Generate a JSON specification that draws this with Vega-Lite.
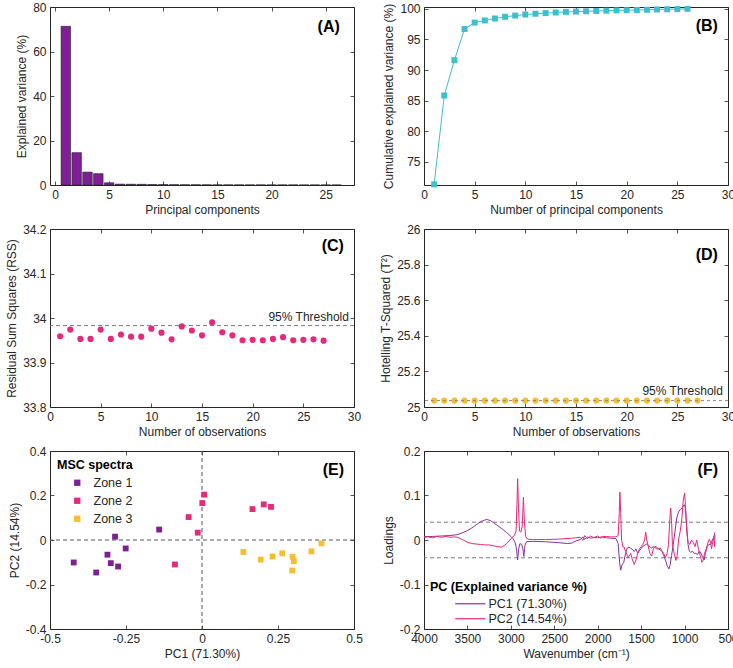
{
  "$schema": "https://vega.github.io/schema/vega-lite/v6.json",
  "background": "white",
  "padding": {"left": 5, "top": 0, "right": 5, "bottom": 5},
  "columns": 2,
  "spacing": {"row": 44, "column": 70},
  "bounds": "flush",
  "resolve": {"legend": {"fill": "independent", "stroke": "independent"}, "scale": {"fill": "independent", "stroke": "independent"}},
  "config": {
    "font": "Liberation Sans",
    "view": {"stroke": "#262626", "strokeWidth": 1},
    "axis": {"grid": false, "domain": false, "ticks": true, "tickSize": -4, "tickColor": "#262626", "tickWidth": 0.8,
      "labelPadding": 8, "labelFontSize": 12, "labelColor": "#262626", "titleFontSize": 12, "titleFontWeight": "normal",
      "titleColor": "#262626", "titlePadding": 4, "labelFlush": false, "labelOverlap": false},
    "locale": {"number": {"decimal": ".", "thousands": ",", "grouping": [3], "currency": ["$", ""], "minus": "-"}}
  },
  "concat": [
    {
      "width": 304, "height": 178,
      "data": {"values": [
        {"pc": 1, "var": 71.3}, {"pc": 2, "var": 14.54}, {"pc": 3, "var": 5.8}, {"pc": 4, "var": 5.1},
        {"pc": 5, "var": 1.0}, {"pc": 6, "var": 0.4}, {"pc": 7, "var": 0.35}, {"pc": 8, "var": 0.3},
        {"pc": 9, "var": 0.2}, {"pc": 10, "var": 0.17}, {"pc": 11, "var": 0.13}, {"pc": 12, "var": 0.1},
        {"pc": 13, "var": 0.1}, {"pc": 14, "var": 0.08}, {"pc": 15, "var": 0.06}, {"pc": 16, "var": 0.05},
        {"pc": 17, "var": 0.05}, {"pc": 18, "var": 0.04}, {"pc": 19, "var": 0.04}, {"pc": 20, "var": 0.03},
        {"pc": 21, "var": 0.03}, {"pc": 22, "var": 0.03}, {"pc": 23, "var": 0.03}, {"pc": 24, "var": 0.02},
        {"pc": 25, "var": 0.02}, {"pc": 26, "var": 0.02}
      ]},
      "resolve": {"axis": {"x": "independent", "y": "independent"}},
      "layer": [
        {"mark": {"type": "bar", "size": 9.5, "fill": "#7E1F96", "stroke": "#222222", "strokeWidth": 0.6},
         "encoding": {
           "x": {"field": "pc", "type": "quantitative", "scale": {"domain": [0, 27.15], "nice": false, "zero": false},
                 "axis": {"values": [0, 5, 10, 15, 20, 25], "title": "Principal components"}},
           "y": {"field": "var", "type": "quantitative", "scale": {"domain": [0, 80], "nice": false},
                 "axis": {"values": [0, 20, 40, 60, 80], "title": "Explained variance (%)"}}
         }},
        {"mark": {"type": "point", "opacity": 0},
         "encoding": {
           "x": {"field": "pc", "type": "quantitative", "axis": {"orient": "top", "labels": false, "title": null, "values": [0, 5, 10, 15, 20, 25]}},
           "y": {"field": "var", "type": "quantitative", "axis": {"orient": "right", "labels": false, "title": null, "values": [0, 20, 40, 60, 80]}}
         }},
        {"data": {"values": [{"label": "(A)"}]},
         "mark": {"type": "text", "align": "right", "baseline": "middle", "fontSize": 16, "fontWeight": "bold", "color": "black"},
         "encoding": {"text": {"field": "label"}, "x": {"datum": 26.3, "axis": null}, "y": {"datum": 71, "axis": null}}}
      ]
    },
    {
      "width": 304, "height": 178,
      "data": {"values": [
        {"n": 1, "cum": 71.3}, {"n": 2, "cum": 85.84}, {"n": 3, "cum": 91.6}, {"n": 4, "cum": 96.7},
        {"n": 5, "cum": 97.75}, {"n": 6, "cum": 98.1}, {"n": 7, "cum": 98.42}, {"n": 8, "cum": 98.7},
        {"n": 9, "cum": 98.9}, {"n": 10, "cum": 99.07}, {"n": 11, "cum": 99.2}, {"n": 12, "cum": 99.3},
        {"n": 13, "cum": 99.4}, {"n": 14, "cum": 99.5}, {"n": 15, "cum": 99.55}, {"n": 16, "cum": 99.6},
        {"n": 17, "cum": 99.65}, {"n": 18, "cum": 99.7}, {"n": 19, "cum": 99.75}, {"n": 20, "cum": 99.78},
        {"n": 21, "cum": 99.82}, {"n": 22, "cum": 99.85}, {"n": 23, "cum": 99.9}, {"n": 24, "cum": 99.93},
        {"n": 25, "cum": 99.96}, {"n": 26, "cum": 100}
      ]},
      "resolve": {"axis": {"x": "independent", "y": "independent"}},
      "layer": [
        {"mark": {"type": "line", "color": "#3DBFCD", "strokeWidth": 1, "point": {"shape": "square", "filled": true, "size": 36, "color": "#3DBFCD"}},
         "encoding": {
           "x": {"field": "n", "type": "quantitative", "scale": {"domain": [0, 30], "nice": false},
                 "axis": {"values": [0, 5, 10, 15, 20, 25, 30], "title": "Number of principal components"}},
           "y": {"field": "cum", "type": "quantitative", "scale": {"domain": [71.2, 100.3], "nice": false, "zero": false},
                 "axis": {"values": [75, 80, 85, 90, 95, 100], "title": "Cumulative explained variance (%)"}}
         }},
        {"mark": {"type": "point", "opacity": 0},
         "encoding": {
           "x": {"field": "n", "type": "quantitative", "axis": {"orient": "top", "labels": false, "title": null, "values": [0, 5, 10, 15, 20, 25, 30]}},
           "y": {"field": "cum", "type": "quantitative", "axis": {"orient": "right", "labels": false, "title": null, "values": [75, 80, 85, 90, 95, 100]}}
         }},
        {"data": {"values": [{"label": "(B)"}]},
         "mark": {"type": "text", "align": "right", "baseline": "middle", "fontSize": 16, "fontWeight": "bold", "color": "black"},
         "encoding": {"text": {"field": "label"}, "x": {"datum": 29.0, "axis": null}, "y": {"datum": 97.2, "axis": null}}}
      ]
    },
    {
      "width": 304, "height": 178,
      "data": {"values": [
        {"obs": 1, "rss": 33.959}, {"obs": 2, "rss": 33.974}, {"obs": 3, "rss": 33.953}, {"obs": 4, "rss": 33.953},
        {"obs": 5, "rss": 33.974}, {"obs": 6, "rss": 33.953}, {"obs": 7, "rss": 33.963}, {"obs": 8, "rss": 33.958},
        {"obs": 9, "rss": 33.958}, {"obs": 10, "rss": 33.976}, {"obs": 11, "rss": 33.967}, {"obs": 12, "rss": 33.952},
        {"obs": 13, "rss": 33.981}, {"obs": 14, "rss": 33.972}, {"obs": 15, "rss": 33.961}, {"obs": 16, "rss": 33.990},
        {"obs": 17, "rss": 33.968}, {"obs": 18, "rss": 33.961}, {"obs": 19, "rss": 33.950}, {"obs": 20, "rss": 33.951},
        {"obs": 21, "rss": 33.950}, {"obs": 22, "rss": 33.953}, {"obs": 23, "rss": 33.957}, {"obs": 24, "rss": 33.950},
        {"obs": 25, "rss": 33.951}, {"obs": 26, "rss": 33.952}, {"obs": 27, "rss": 33.949}
      ]},
      "resolve": {"axis": {"x": "independent", "y": "independent"}},
      "layer": [
        {"data": {"values": [{"label": "95% Threshold", "value": 33.983}]},
         "mark": {"type": "rule", "color": "#7a7a7a", "strokeDash": [4, 3], "strokeWidth": 1},
         "encoding": {"y": {"field": "value", "type": "quantitative", "axis": null}}},
        {"mark": {"type": "circle", "size": 38, "color": "#E8287A", "opacity": 1},
         "encoding": {
           "x": {"field": "obs", "type": "quantitative", "scale": {"domain": [0, 30], "nice": false},
                 "axis": {"values": [0, 5, 10, 15, 20, 25, 30], "title": "Number of observations"}},
           "y": {"field": "rss", "type": "quantitative", "scale": {"domain": [33.8, 34.2], "nice": false, "zero": false},
                 "axis": {"values": [33.8, 33.9, 34, 34.1, 34.2], "format": ".1~f", "title": "Residual Sum Squares (RSS)"}}
         }},
        {"mark": {"type": "point", "opacity": 0},
         "encoding": {
           "x": {"field": "obs", "type": "quantitative", "axis": {"orient": "top", "labels": false, "title": null, "values": [0, 5, 10, 15, 20, 25, 30]}},
           "y": {"field": "rss", "type": "quantitative", "axis": {"orient": "right", "labels": false, "title": null, "values": [33.8, 33.9, 34, 34.1, 34.2]}}
         }},
        {"data": {"values": [{"label": "95% Threshold", "value": 33.983}]},
         "mark": {"type": "text", "align": "right", "baseline": "bottom", "dy": -2, "fontSize": 12, "color": "#262626"},
         "encoding": {"text": {"field": "label"}, "x": {"datum": 29.5, "axis": null}, "y": {"field": "value", "type": "quantitative", "axis": null}}},
        {"data": {"values": [{"label": "(C)"}]},
         "mark": {"type": "text", "align": "right", "baseline": "middle", "fontSize": 16, "fontWeight": "bold", "color": "black"},
         "encoding": {"text": {"field": "label"}, "x": {"datum": 29.0, "axis": null}, "y": {"datum": 34.162, "axis": null}}}
      ]
    },
    {
      "width": 304, "height": 178,
      "data": {"values": [
        {"obs": 1, "t2": 25.036}, {"obs": 2, "t2": 25.036}, {"obs": 3, "t2": 25.036}, {"obs": 4, "t2": 25.036},
        {"obs": 5, "t2": 25.036}, {"obs": 6, "t2": 25.036}, {"obs": 7, "t2": 25.036}, {"obs": 8, "t2": 25.036},
        {"obs": 9, "t2": 25.036}, {"obs": 10, "t2": 25.036}, {"obs": 11, "t2": 25.036}, {"obs": 12, "t2": 25.036},
        {"obs": 13, "t2": 25.036}, {"obs": 14, "t2": 25.036}, {"obs": 15, "t2": 25.036}, {"obs": 16, "t2": 25.036},
        {"obs": 17, "t2": 25.036}, {"obs": 18, "t2": 25.036}, {"obs": 19, "t2": 25.036}, {"obs": 20, "t2": 25.036},
        {"obs": 21, "t2": 25.036}, {"obs": 22, "t2": 25.036}, {"obs": 23, "t2": 25.036}, {"obs": 24, "t2": 25.036},
        {"obs": 25, "t2": 25.036}, {"obs": 26, "t2": 25.036}, {"obs": 27, "t2": 25.036}
      ]},
      "resolve": {"axis": {"x": "independent", "y": "independent"}},
      "layer": [
        {"mark": {"type": "circle", "size": 38, "color": "#F5BE30", "opacity": 1},
         "encoding": {
           "x": {"field": "obs", "type": "quantitative", "scale": {"domain": [0, 30], "nice": false},
                 "axis": {"values": [0, 5, 10, 15, 20, 25, 30], "title": "Number of observations"}},
           "y": {"field": "t2", "type": "quantitative", "scale": {"domain": [25, 26], "nice": false, "zero": false},
                 "axis": {"values": [25, 25.2, 25.4, 25.6, 25.8, 26], "format": ".1~f", "title": "Hotelling T-Squared (T²)"}}
         }},
        {"data": {"values": [{"label": "95% Threshold", "value": 25.036}]},
         "mark": {"type": "rule", "color": "#8a8a8a", "strokeDash": [3, 3], "strokeWidth": 1},
         "encoding": {"y": {"field": "value", "type": "quantitative", "axis": null}}},
        {"mark": {"type": "point", "opacity": 0},
         "encoding": {
           "x": {"field": "obs", "type": "quantitative", "axis": {"orient": "top", "labels": false, "title": null, "values": [0, 5, 10, 15, 20, 25, 30]}},
           "y": {"field": "t2", "type": "quantitative", "axis": {"orient": "right", "labels": false, "title": null, "values": [25, 25.2, 25.4, 25.6, 25.8, 26]}}
         }},
        {"data": {"values": [{"label": "95% Threshold", "value": 25.036}]},
         "mark": {"type": "text", "align": "right", "baseline": "bottom", "dy": -3, "fontSize": 12, "color": "#262626"},
         "encoding": {"text": {"field": "label"}, "x": {"datum": 29.5, "axis": null}, "y": {"field": "value", "type": "quantitative", "axis": null}}},
        {"data": {"values": [{"label": "(D)"}]},
         "mark": {"type": "text", "align": "right", "baseline": "middle", "fontSize": 16, "fontWeight": "bold", "color": "black"},
         "encoding": {"text": {"field": "label"}, "x": {"datum": 29.0, "axis": null}, "y": {"datum": 25.854, "axis": null}}}
      ]
    },
    {
      "width": 304, "height": 178,
      "data": {"values": [
        {"zone": "Zone 1", "pc1": -0.422, "pc2": -0.101}, {"zone": "Zone 1", "pc1": -0.348, "pc2": -0.146},
        {"zone": "Zone 1", "pc1": -0.311, "pc2": -0.066}, {"zone": "Zone 1", "pc1": -0.300, "pc2": -0.104},
        {"zone": "Zone 1", "pc1": -0.286, "pc2": 0.015}, {"zone": "Zone 1", "pc1": -0.276, "pc2": -0.119},
        {"zone": "Zone 1", "pc1": -0.251, "pc2": -0.038}, {"zone": "Zone 1", "pc1": -0.141, "pc2": 0.047},
        {"zone": "Zone 2", "pc1": -0.089, "pc2": -0.110}, {"zone": "Zone 2", "pc1": -0.044, "pc2": 0.103},
        {"zone": "Zone 2", "pc1": -0.014, "pc2": 0.033}, {"zone": "Zone 2", "pc1": 0.001, "pc2": 0.166},
        {"zone": "Zone 2", "pc1": 0.007, "pc2": 0.204}, {"zone": "Zone 2", "pc1": 0.166, "pc2": 0.139},
        {"zone": "Zone 2", "pc1": 0.203, "pc2": 0.160}, {"zone": "Zone 2", "pc1": 0.227, "pc2": 0.149},
        {"zone": "Zone 3", "pc1": 0.136, "pc2": -0.054}, {"zone": "Zone 3", "pc1": 0.193, "pc2": -0.088},
        {"zone": "Zone 3", "pc1": 0.232, "pc2": -0.074}, {"zone": "Zone 3", "pc1": 0.264, "pc2": -0.060},
        {"zone": "Zone 3", "pc1": 0.298, "pc2": -0.075}, {"zone": "Zone 3", "pc1": 0.302, "pc2": -0.095},
        {"zone": "Zone 3", "pc1": 0.297, "pc2": -0.137}, {"zone": "Zone 3", "pc1": 0.360, "pc2": -0.051},
        {"zone": "Zone 3", "pc1": 0.393, "pc2": -0.015}
      ]},
      "resolve": {"axis": {"x": "independent", "y": "independent"}},
      "layer": [
        {"data": {"values": [{"value": 0}]},
         "mark": {"type": "rule", "color": "#555555", "strokeDash": [4, 3], "strokeWidth": 1},
         "encoding": {"x": {"field": "value", "type": "quantitative", "axis": null}}},
        {"data": {"values": [{"value": 0}]},
         "mark": {"type": "rule", "color": "#555555", "strokeDash": [4, 3], "strokeWidth": 1},
         "encoding": {"y": {"field": "value", "type": "quantitative", "axis": null}}},
        {"mark": {"type": "square", "size": 34, "filled": true, "opacity": 1},
         "encoding": {
           "x": {"field": "pc1", "type": "quantitative", "scale": {"domain": [-0.5, 0.5], "nice": false},
                 "axis": {"values": [-0.5, -0.25, 0, 0.25, 0.5], "format": ".2~f", "title": "PC1 (71.30%)"}},
           "y": {"field": "pc2", "type": "quantitative", "scale": {"domain": [-0.4, 0.4], "nice": false},
                 "axis": {"values": [-0.4, -0.2, 0, 0.2, 0.4], "format": ".1~f", "title": "PC2 (14.54%)"}},
           "fill": {"field": "zone", "type": "nominal",
                    "scale": {"domain": ["Zone 1", "Zone 2", "Zone 3"], "range": ["#7E1F96", "#E8287A", "#F5BE30"]},
                    "legend": {"title": "MSC spectra", "orient": "none", "legendX": 7, "legendY": 8, "padding": 0,
                               "titleFontSize": 12.5, "titleFontWeight": "bold", "titleColor": "black", "titlePadding": 5,
                               "labelFontSize": 12.5, "labelColor": "#262626", "symbolType": "square", "symbolSize": 40,
                               "symbolOffset": 14, "labelOffset": 10, "rowPadding": 5, "symbolStrokeWidth": 0}}
         }},
        {"mark": {"type": "point", "opacity": 0},
         "encoding": {
           "x": {"field": "pc1", "type": "quantitative", "axis": {"orient": "top", "labels": false, "title": null, "values": [-0.5, -0.25, 0, 0.25, 0.5]}},
           "y": {"field": "pc2", "type": "quantitative", "axis": {"orient": "right", "labels": false, "title": null, "values": [-0.4, -0.2, 0, 0.2, 0.4]}}
         }},
        {"data": {"values": [{"label": "(E)"}]},
         "mark": {"type": "text", "align": "right", "baseline": "middle", "fontSize": 16, "fontWeight": "bold", "color": "black"},
         "encoding": {"text": {"field": "label"}, "x": {"datum": 0.467, "axis": null}, "y": {"datum": 0.314, "axis": null}}}
      ]
    },
    {
      "width": 304, "height": 178,
      "data": {"values": [
        {"wn": 4000, "pc": "PC1 (71.30%)", "v": 0.0075}, {"wn": 3900, "pc": "PC1 (71.30%)", "v": 0.008},
        {"wn": 3800, "pc": "PC1 (71.30%)", "v": 0.009}, {"wn": 3700, "pc": "PC1 (71.30%)", "v": 0.010},
        {"wn": 3620, "pc": "PC1 (71.30%)", "v": 0.012}, {"wn": 3560, "pc": "PC1 (71.30%)", "v": 0.016},
        {"wn": 3500, "pc": "PC1 (71.30%)", "v": 0.021}, {"wn": 3450, "pc": "PC1 (71.30%)", "v": 0.027},
        {"wn": 3400, "pc": "PC1 (71.30%)", "v": 0.034}, {"wn": 3350, "pc": "PC1 (71.30%)", "v": 0.041},
        {"wn": 3300, "pc": "PC1 (71.30%)", "v": 0.045}, {"wn": 3270, "pc": "PC1 (71.30%)", "v": 0.046},
        {"wn": 3230, "pc": "PC1 (71.30%)", "v": 0.043}, {"wn": 3200, "pc": "PC1 (71.30%)", "v": 0.039},
        {"wn": 3150, "pc": "PC1 (71.30%)", "v": 0.032}, {"wn": 3100, "pc": "PC1 (71.30%)", "v": 0.025},
        {"wn": 3050, "pc": "PC1 (71.30%)", "v": 0.017}, {"wn": 3000, "pc": "PC1 (71.30%)", "v": 0.008},
        {"wn": 2975, "pc": "PC1 (71.30%)", "v": 0.003}, {"wn": 2950, "pc": "PC1 (71.30%)", "v": -0.006},
        {"wn": 2935, "pc": "PC1 (71.30%)", "v": -0.02}, {"wn": 2922, "pc": "PC1 (71.30%)", "v": -0.045},
        {"wn": 2910, "pc": "PC1 (71.30%)", "v": -0.02}, {"wn": 2895, "pc": "PC1 (71.30%)", "v": -0.008},
        {"wn": 2875, "pc": "PC1 (71.30%)", "v": -0.01}, {"wn": 2862, "pc": "PC1 (71.30%)", "v": -0.02},
        {"wn": 2850, "pc": "PC1 (71.30%)", "v": -0.037}, {"wn": 2838, "pc": "PC1 (71.30%)", "v": -0.012},
        {"wn": 2820, "pc": "PC1 (71.30%)", "v": -0.004}, {"wn": 2750, "pc": "PC1 (71.30%)", "v": -0.003},
        {"wn": 2600, "pc": "PC1 (71.30%)", "v": -0.004}, {"wn": 2450, "pc": "PC1 (71.30%)", "v": -0.006},
        {"wn": 2350, "pc": "PC1 (71.30%)", "v": -0.008}, {"wn": 2300, "pc": "PC1 (71.30%)", "v": -0.007},
        {"wn": 2250, "pc": "PC1 (71.30%)", "v": -0.002}, {"wn": 2200, "pc": "PC1 (71.30%)", "v": 0.001},
        {"wn": 2170, "pc": "PC1 (71.30%)", "v": 0.007}, {"wn": 2150, "pc": "PC1 (71.30%)", "v": 0.001},
        {"wn": 2120, "pc": "PC1 (71.30%)", "v": 0.007}, {"wn": 2080, "pc": "PC1 (71.30%)", "v": 0.004},
        {"wn": 2050, "pc": "PC1 (71.30%)", "v": 0.006}, {"wn": 2000, "pc": "PC1 (71.30%)", "v": 0.005},
        {"wn": 1950, "pc": "PC1 (71.30%)", "v": 0.007}, {"wn": 1900, "pc": "PC1 (71.30%)", "v": 0.005},
        {"wn": 1850, "pc": "PC1 (71.30%)", "v": 0.004}, {"wn": 1790, "pc": "PC1 (71.30%)", "v": 0.003},
        {"wn": 1765, "pc": "PC1 (71.30%)", "v": -0.008}, {"wn": 1748, "pc": "PC1 (71.30%)", "v": -0.05},
        {"wn": 1735, "pc": "PC1 (71.30%)", "v": -0.068}, {"wn": 1720, "pc": "PC1 (71.30%)", "v": -0.056},
        {"wn": 1700, "pc": "PC1 (71.30%)", "v": -0.05}, {"wn": 1680, "pc": "PC1 (71.30%)", "v": -0.03},
        {"wn": 1660, "pc": "PC1 (71.30%)", "v": -0.018}, {"wn": 1640, "pc": "PC1 (71.30%)", "v": -0.016},
        {"wn": 1620, "pc": "PC1 (71.30%)", "v": -0.019}, {"wn": 1600, "pc": "PC1 (71.30%)", "v": -0.021},
        {"wn": 1580, "pc": "PC1 (71.30%)", "v": -0.026}, {"wn": 1560, "pc": "PC1 (71.30%)", "v": -0.02},
        {"wn": 1540, "pc": "PC1 (71.30%)", "v": -0.03}, {"wn": 1520, "pc": "PC1 (71.30%)", "v": -0.024},
        {"wn": 1500, "pc": "PC1 (71.30%)", "v": -0.019}, {"wn": 1480, "pc": "PC1 (71.30%)", "v": -0.014},
        {"wn": 1460, "pc": "PC1 (71.30%)", "v": -0.012}, {"wn": 1440, "pc": "PC1 (71.30%)", "v": -0.009},
        {"wn": 1420, "pc": "PC1 (71.30%)", "v": -0.012}, {"wn": 1400, "pc": "PC1 (71.30%)", "v": -0.015},
        {"wn": 1380, "pc": "PC1 (71.30%)", "v": -0.018}, {"wn": 1360, "pc": "PC1 (71.30%)", "v": -0.015},
        {"wn": 1340, "pc": "PC1 (71.30%)", "v": -0.017}, {"wn": 1320, "pc": "PC1 (71.30%)", "v": -0.02},
        {"wn": 1300, "pc": "PC1 (71.30%)", "v": -0.02}, {"wn": 1280, "pc": "PC1 (71.30%)", "v": -0.022},
        {"wn": 1260, "pc": "PC1 (71.30%)", "v": -0.026}, {"wn": 1240, "pc": "PC1 (71.30%)", "v": -0.035},
        {"wn": 1220, "pc": "PC1 (71.30%)", "v": -0.045}, {"wn": 1200, "pc": "PC1 (71.30%)", "v": -0.058},
        {"wn": 1180, "pc": "PC1 (71.30%)", "v": -0.065}, {"wn": 1165, "pc": "PC1 (71.30%)", "v": -0.055},
        {"wn": 1150, "pc": "PC1 (71.30%)", "v": -0.035}, {"wn": 1130, "pc": "PC1 (71.30%)", "v": -0.01},
        {"wn": 1110, "pc": "PC1 (71.30%)", "v": 0.02}, {"wn": 1090, "pc": "PC1 (71.30%)", "v": 0.05},
        {"wn": 1070, "pc": "PC1 (71.30%)", "v": 0.063}, {"wn": 1050, "pc": "PC1 (71.30%)", "v": 0.068},
        {"wn": 1030, "pc": "PC1 (71.30%)", "v": 0.072}, {"wn": 1010, "pc": "PC1 (71.30%)", "v": 0.078},
        {"wn": 1000, "pc": "PC1 (71.30%)", "v": 0.079}, {"wn": 990, "pc": "PC1 (71.30%)", "v": 0.07},
        {"wn": 975, "pc": "PC1 (71.30%)", "v": 0.03}, {"wn": 960, "pc": "PC1 (71.30%)", "v": -0.01},
        {"wn": 945, "pc": "PC1 (71.30%)", "v": -0.025}, {"wn": 930, "pc": "PC1 (71.30%)", "v": -0.028},
        {"wn": 910, "pc": "PC1 (71.30%)", "v": -0.025}, {"wn": 890, "pc": "PC1 (71.30%)", "v": -0.03},
        {"wn": 870, "pc": "PC1 (71.30%)", "v": -0.03}, {"wn": 850, "pc": "PC1 (71.30%)", "v": -0.033},
        {"wn": 830, "pc": "PC1 (71.30%)", "v": -0.025}, {"wn": 810, "pc": "PC1 (71.30%)", "v": -0.03},
        {"wn": 790, "pc": "PC1 (71.30%)", "v": -0.04}, {"wn": 775, "pc": "PC1 (71.30%)", "v": -0.045},
        {"wn": 760, "pc": "PC1 (71.30%)", "v": -0.03}, {"wn": 740, "pc": "PC1 (71.30%)", "v": -0.015},
        {"wn": 720, "pc": "PC1 (71.30%)", "v": -0.01}, {"wn": 700, "pc": "PC1 (71.30%)", "v": -0.01},
        {"wn": 680, "pc": "PC1 (71.30%)", "v": 0.0}, {"wn": 665, "pc": "PC1 (71.30%)", "v": 0.005},
        {"wn": 650, "pc": "PC1 (71.30%)", "v": 0.017},

        {"wn": 4000, "pc": "PC2 (14.54%)", "v": 0.006}, {"wn": 3950, "pc": "PC2 (14.54%)", "v": 0.007},
        {"wn": 3900, "pc": "PC2 (14.54%)", "v": 0.005}, {"wn": 3850, "pc": "PC2 (14.54%)", "v": 0.008},
        {"wn": 3800, "pc": "PC2 (14.54%)", "v": 0.006}, {"wn": 3750, "pc": "PC2 (14.54%)", "v": 0.008},
        {"wn": 3700, "pc": "PC2 (14.54%)", "v": 0.006}, {"wn": 3650, "pc": "PC2 (14.54%)", "v": 0.007},
        {"wn": 3610, "pc": "PC2 (14.54%)", "v": 0.006}, {"wn": 3560, "pc": "PC2 (14.54%)", "v": 0.001},
        {"wn": 3500, "pc": "PC2 (14.54%)", "v": -0.005}, {"wn": 3450, "pc": "PC2 (14.54%)", "v": -0.008},
        {"wn": 3400, "pc": "PC2 (14.54%)", "v": -0.009}, {"wn": 3350, "pc": "PC2 (14.54%)", "v": -0.010},
        {"wn": 3300, "pc": "PC2 (14.54%)", "v": -0.011}, {"wn": 3250, "pc": "PC2 (14.54%)", "v": -0.011},
        {"wn": 3200, "pc": "PC2 (14.54%)", "v": -0.013}, {"wn": 3150, "pc": "PC2 (14.54%)", "v": -0.015},
        {"wn": 3110, "pc": "PC2 (14.54%)", "v": -0.016}, {"wn": 3080, "pc": "PC2 (14.54%)", "v": -0.013},
        {"wn": 3050, "pc": "PC2 (14.54%)", "v": -0.008}, {"wn": 3020, "pc": "PC2 (14.54%)", "v": -0.002},
        {"wn": 2990, "pc": "PC2 (14.54%)", "v": 0.005}, {"wn": 2960, "pc": "PC2 (14.54%)", "v": 0.01},
        {"wn": 2940, "pc": "PC2 (14.54%)", "v": 0.02}, {"wn": 2930, "pc": "PC2 (14.54%)", "v": 0.08},
        {"wn": 2922, "pc": "PC2 (14.54%)", "v": 0.138}, {"wn": 2912, "pc": "PC2 (14.54%)", "v": 0.07},
        {"wn": 2900, "pc": "PC2 (14.54%)", "v": 0.02}, {"wn": 2885, "pc": "PC2 (14.54%)", "v": 0.018},
        {"wn": 2870, "pc": "PC2 (14.54%)", "v": 0.03}, {"wn": 2855, "pc": "PC2 (14.54%)", "v": 0.096},
        {"wn": 2844, "pc": "PC2 (14.54%)", "v": 0.04}, {"wn": 2830, "pc": "PC2 (14.54%)", "v": 0.008},
        {"wn": 2810, "pc": "PC2 (14.54%)", "v": 0.002}, {"wn": 2750, "pc": "PC2 (14.54%)", "v": 0.001},
        {"wn": 2600, "pc": "PC2 (14.54%)", "v": 0.001}, {"wn": 2450, "pc": "PC2 (14.54%)", "v": 0.002},
        {"wn": 2300, "pc": "PC2 (14.54%)", "v": 0.004}, {"wn": 2200, "pc": "PC2 (14.54%)", "v": 0.006},
        {"wn": 2170, "pc": "PC2 (14.54%)", "v": -0.001}, {"wn": 2150, "pc": "PC2 (14.54%)", "v": 0.01},
        {"wn": 2120, "pc": "PC2 (14.54%)", "v": 0.003}, {"wn": 2080, "pc": "PC2 (14.54%)", "v": 0.009},
        {"wn": 2050, "pc": "PC2 (14.54%)", "v": 0.005}, {"wn": 2000, "pc": "PC2 (14.54%)", "v": 0.009},
        {"wn": 1970, "pc": "PC2 (14.54%)", "v": 0.004}, {"wn": 1940, "pc": "PC2 (14.54%)", "v": 0.008},
        {"wn": 1900, "pc": "PC2 (14.54%)", "v": 0.008}, {"wn": 1850, "pc": "PC2 (14.54%)", "v": 0.007},
        {"wn": 1790, "pc": "PC2 (14.54%)", "v": 0.007}, {"wn": 1765, "pc": "PC2 (14.54%)", "v": 0.01},
        {"wn": 1752, "pc": "PC2 (14.54%)", "v": 0.06}, {"wn": 1745, "pc": "PC2 (14.54%)", "v": 0.108},
        {"wn": 1735, "pc": "PC2 (14.54%)", "v": 0.06}, {"wn": 1725, "pc": "PC2 (14.54%)", "v": 0.0},
        {"wn": 1710, "pc": "PC2 (14.54%)", "v": -0.015}, {"wn": 1700, "pc": "PC2 (14.54%)", "v": -0.015},
        {"wn": 1680, "pc": "PC2 (14.54%)", "v": -0.025}, {"wn": 1650, "pc": "PC2 (14.54%)", "v": -0.04},
        {"wn": 1620, "pc": "PC2 (14.54%)", "v": -0.03}, {"wn": 1600, "pc": "PC2 (14.54%)", "v": -0.045},
        {"wn": 1580, "pc": "PC2 (14.54%)", "v": -0.055}, {"wn": 1560, "pc": "PC2 (14.54%)", "v": -0.045},
        {"wn": 1540, "pc": "PC2 (14.54%)", "v": -0.03}, {"wn": 1520, "pc": "PC2 (14.54%)", "v": -0.02},
        {"wn": 1500, "pc": "PC2 (14.54%)", "v": -0.015}, {"wn": 1480, "pc": "PC2 (14.54%)", "v": -0.01},
        {"wn": 1460, "pc": "PC2 (14.54%)", "v": 0.0}, {"wn": 1448, "pc": "PC2 (14.54%)", "v": 0.018},
        {"wn": 1435, "pc": "PC2 (14.54%)", "v": 0.0}, {"wn": 1420, "pc": "PC2 (14.54%)", "v": -0.012},
        {"wn": 1400, "pc": "PC2 (14.54%)", "v": -0.03}, {"wn": 1380, "pc": "PC2 (14.54%)", "v": -0.036},
        {"wn": 1360, "pc": "PC2 (14.54%)", "v": -0.02}, {"wn": 1340, "pc": "PC2 (14.54%)", "v": -0.014},
        {"wn": 1320, "pc": "PC2 (14.54%)", "v": -0.016}, {"wn": 1300, "pc": "PC2 (14.54%)", "v": -0.02},
        {"wn": 1280, "pc": "PC2 (14.54%)", "v": -0.018}, {"wn": 1260, "pc": "PC2 (14.54%)", "v": -0.025},
        {"wn": 1240, "pc": "PC2 (14.54%)", "v": -0.03}, {"wn": 1220, "pc": "PC2 (14.54%)", "v": -0.04},
        {"wn": 1200, "pc": "PC2 (14.54%)", "v": -0.03}, {"wn": 1185, "pc": "PC2 (14.54%)", "v": -0.01},
        {"wn": 1172, "pc": "PC2 (14.54%)", "v": 0.04}, {"wn": 1160, "pc": "PC2 (14.54%)", "v": 0.072},
        {"wn": 1150, "pc": "PC2 (14.54%)", "v": 0.045}, {"wn": 1140, "pc": "PC2 (14.54%)", "v": -0.01},
        {"wn": 1120, "pc": "PC2 (14.54%)", "v": -0.03}, {"wn": 1100, "pc": "PC2 (14.54%)", "v": -0.046},
        {"wn": 1085, "pc": "PC2 (14.54%)", "v": -0.035}, {"wn": 1070, "pc": "PC2 (14.54%)", "v": 0.0},
        {"wn": 1050, "pc": "PC2 (14.54%)", "v": 0.02}, {"wn": 1030, "pc": "PC2 (14.54%)", "v": 0.05},
        {"wn": 1015, "pc": "PC2 (14.54%)", "v": 0.09}, {"wn": 1000, "pc": "PC2 (14.54%)", "v": 0.105},
        {"wn": 990, "pc": "PC2 (14.54%)", "v": 0.08}, {"wn": 975, "pc": "PC2 (14.54%)", "v": 0.02},
        {"wn": 960, "pc": "PC2 (14.54%)", "v": -0.005}, {"wn": 940, "pc": "PC2 (14.54%)", "v": -0.01},
        {"wn": 920, "pc": "PC2 (14.54%)", "v": 0.0}, {"wn": 900, "pc": "PC2 (14.54%)", "v": -0.005},
        {"wn": 880, "pc": "PC2 (14.54%)", "v": -0.015}, {"wn": 860, "pc": "PC2 (14.54%)", "v": 0.0},
        {"wn": 840, "pc": "PC2 (14.54%)", "v": -0.02}, {"wn": 820, "pc": "PC2 (14.54%)", "v": -0.035},
        {"wn": 800, "pc": "PC2 (14.54%)", "v": -0.05}, {"wn": 785, "pc": "PC2 (14.54%)", "v": -0.045},
        {"wn": 770, "pc": "PC2 (14.54%)", "v": -0.03}, {"wn": 750, "pc": "PC2 (14.54%)", "v": -0.02},
        {"wn": 730, "pc": "PC2 (14.54%)", "v": -0.005}, {"wn": 715, "pc": "PC2 (14.54%)", "v": 0.002},
        {"wn": 700, "pc": "PC2 (14.54%)", "v": -0.005}, {"wn": 690, "pc": "PC2 (14.54%)", "v": -0.02},
        {"wn": 680, "pc": "PC2 (14.54%)", "v": -0.01}, {"wn": 665, "pc": "PC2 (14.54%)", "v": 0.008},
        {"wn": 655, "pc": "PC2 (14.54%)", "v": -0.015}, {"wn": 650, "pc": "PC2 (14.54%)", "v": 0.012}
      ]},
      "resolve": {"axis": {"x": "independent", "y": "independent"}},
      "layer": [
        {"data": {"values": [{"value": 0.04}, {"value": -0.04}]},
         "mark": {"type": "rule", "color": "#7a7a7a", "strokeDash": [4, 3], "strokeWidth": 1},
         "encoding": {"y": {"field": "value", "type": "quantitative", "axis": null}}},
        {"mark": {"type": "line", "strokeWidth": 1},
         "encoding": {
           "x": {"field": "wn", "type": "quantitative", "scale": {"domain": [500, 4000], "reverse": true, "nice": false, "zero": false},
                 "axis": {"values": [4000, 3500, 3000, 2500, 2000, 1500, 1000, 500], "format": "d", "title": "Wavenumber (cm⁻¹)"}},
           "y": {"field": "v", "type": "quantitative", "scale": {"domain": [-0.2, 0.2], "nice": false},
                 "axis": {"values": [-0.2, -0.1, 0, 0.1, 0.2], "format": ".1~f", "title": "Loadings"}},
           "stroke": {"field": "pc", "type": "nominal",
                      "scale": {"domain": ["PC1 (71.30%)", "PC2 (14.54%)"], "range": ["#8433A0", "#E8287A"]},
                      "legend": {"title": "PC (Explained variance %)", "orient": "none", "legendX": 6, "legendY": 130, "padding": 0,
                                 "titleFontSize": 12.5, "titleFontWeight": "bold", "titleColor": "black", "titlePadding": 4,
                                 "labelFontSize": 12.5, "labelColor": "#262626", "symbolType": "M-5,0H5", "symbolSize": 36,
                                 "symbolStrokeWidth": 1.2, "symbolOffset": 34, "labelOffset": 12, "rowPadding": 2}},
           "detail": {"field": "pc"}
         }},
        {"mark": {"type": "point", "opacity": 0},
         "encoding": {
           "x": {"field": "wn", "type": "quantitative", "axis": {"orient": "top", "labels": false, "title": null, "values": [4000, 3500, 3000, 2500, 2000, 1500, 1000, 500]}},
           "y": {"field": "v", "type": "quantitative", "axis": {"orient": "right", "labels": false, "title": null, "values": [-0.2, -0.1, 0, 0.1, 0.2]}}
         }},
        {"data": {"values": [{"label": "(F)"}]},
         "mark": {"type": "text", "align": "right", "baseline": "middle", "fontSize": 16, "fontWeight": "bold", "color": "black"},
         "encoding": {"text": {"field": "label"}, "x": {"datum": 615, "axis": null}, "y": {"datum": 0.157, "axis": null}}}
      ]
    }
  ]
}
